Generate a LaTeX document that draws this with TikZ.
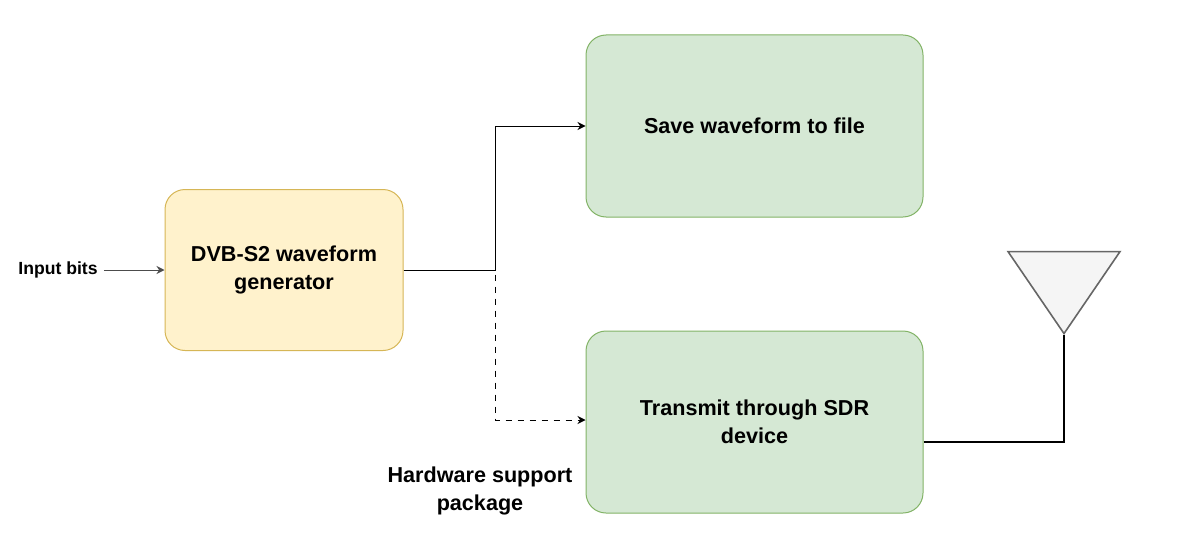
\documentclass[tikz,border=0pt]{standalone}
\usepackage{fontspec}
\setmainfont{Liberation Sans}
\usetikzlibrary{arrows.meta,shapes.geometric}
\definecolor{yf}{HTML}{FFF2CC}\definecolor{ys}{HTML}{D6B656}
\definecolor{gf}{HTML}{D5E8D4}\definecolor{gs}{HTML}{82B366}
\begin{document}
\begin{tikzpicture}[x=0.5pt,y=-0.5pt,
  box/.style={draw,rounded corners=10pt,line width=0.5pt,align=center,font=\bfseries\fontsize{10.8}{14}\selectfont,inner sep=0pt},
  arr/.style={-{Stealth[length=4pt,width=4pt]},line width=0.5pt}]
\useasboundingbox (0,0) rectangle (1192,551);
\node[box,fill=yf,draw=ys,minimum width=119pt,minimum height=80.5pt] (gen) at (284,270) {DVB-S2 waveform\\generator};
\node[box,fill=gf,draw=gs,minimum width=168.5pt,minimum height=91pt] (save) at (754.5,126) {Save waveform to file};
\node[box,fill=gf,draw=gs,minimum width=168.5pt,minimum height=91pt] (tx) at (754.5,422) {Transmit through SDR\\device};
\node[font=\bfseries\fontsize{8.8}{11}\selectfont,inner sep=3pt] (in) at (58,270) {Input bits};
\node[font=\bfseries\fontsize{10.8}{14}\selectfont,align=center] (hw) at (480,491) {Hardware support\\package};
\coordinate (j) at (495,270);
\draw[arr,black!70] (in.east) -- (gen.west);
\draw[arr] (gen.east) -- (j) |- (save.west);
\draw[arr,dashed] (gen.east) -- (j) |- (tx.west |- 0,420);
\node[draw=black!60,fill=black!4,line width=0.8pt,isosceles triangle,shape border rotate=-90,isosceles triangle apex angle=68,isosceles triangle stretches,minimum height=41pt,minimum width=56pt,inner sep=0pt,anchor=apex] (ant) at (1064,335) {};
\draw[line width=1.2pt] (tx.east |- 0,442) -| (ant.apex);
\end{tikzpicture}
\end{document}
